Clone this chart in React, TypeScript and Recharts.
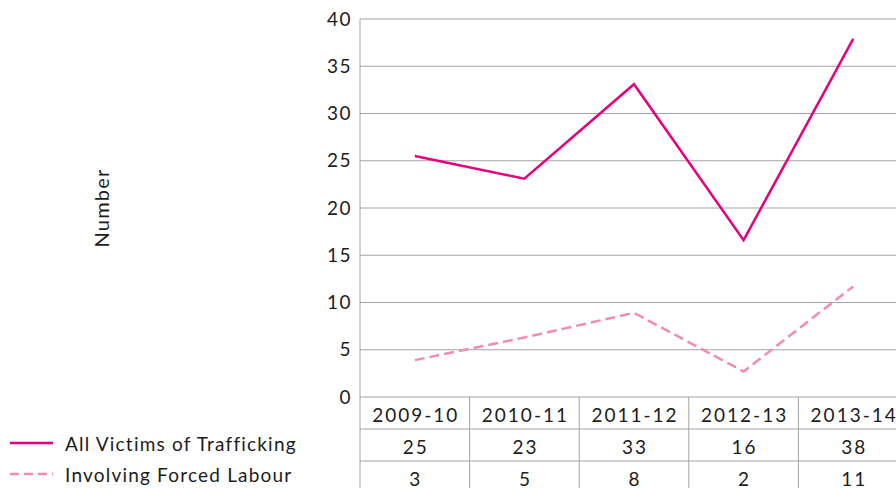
import React from "react";
import { LineChart, Line, XAxis, YAxis, CartesianGrid, Legend } from "recharts";

const years = ["2009-10", "2010-11", "2011-12", "2012-13", "2013-14"];
// values as drawn in the plot
const allVictims = [25.5, 23.1, 33.1, 16.6, 37.9];
const forcedLabour = [3.9, 6.3, 8.9, 2.7, 11.7];
// values as printed in the table
const allVictimsTable = [25, 23, 33, 16, 38];
const forcedLabourTable = [3, 5, 8, 2, 11];
const yTicks = [0, 5, 10, 15, 20, 25, 30, 35, 40];

const data = years.map((year, i) => ({
    year,
    all: allVictims[i],
    forced: forcedLabour[i],
}));

const W = 920;
const H = 488;
const M = { top: 19, right: 12, bottom: 0, left: 0 };
const YW = 360;
const COL_W = (W - M.left - M.right - YW) / years.length;
const ROW_H = 32;
const GRID = "#a3a3a3";
const INK = "#1c1c1c";
const FONT = "Lato, 'Open Sans', sans-serif";
const MAGENTA = "#e6007e";
const PINK = "#f08cb4";

function TableTick(props: any) {
    const { x, y, payload, index } = props;
    const i = index ?? payload.index;
    const left = x - COL_W / 2;
    const right = x + COL_W / 2;
    const rows = [years[i], String(allVictimsTable[i]), String(forcedLabourTable[i])];
    return (
        <g>
            {i === 0 && <line x1={left} x2={left} y1={y} y2={y + ROW_H * 3} stroke={GRID} />}
            <line x1={right} x2={right} y1={y} y2={y + ROW_H * 3} stroke={GRID} />
            <line x1={left} x2={right} y1={y + ROW_H} y2={y + ROW_H} stroke={GRID} />
            <line x1={left} x2={right} y1={y + ROW_H * 2} y2={y + ROW_H * 2} stroke={GRID} />
            {rows.map((t, r) => (
                <text
                    key={r}
                    x={x + 1}
                    y={y + ROW_H * r + ROW_H / 2 + 1}
                    textAnchor="middle"
                    dominantBaseline="central"
                    fontSize={19}
                    letterSpacing={2}
                    fontFamily={FONT}
                    fill={INK}
                >
                    {t}
                </text>
            ))}
        </g>
    );
}

function LegendBox() {
    const items = [
        { label: "All Victims of Trafficking", color: MAGENTA, dash: undefined },
        { label: "Involving Forced Labour", color: PINK, dash: "9 5" },
    ];
    return (
        <svg width={310} height={70}>
            {items.map((it, i) => (
                <g key={it.label}>
                    <line x1={0} x2={43} y1={14 + i * 31} y2={14 + i * 31} stroke={it.color} strokeWidth={2.5} strokeDasharray={it.dash} />
                    <text x={55} y={14 + i * 31} dominantBaseline="central" fontSize={19} letterSpacing={1.2} fontFamily={FONT} fill={INK}>
                        {it.label}
                    </text>
                </g>
            ))}
        </svg>
    );
}

function NumberLabel(props: any) {
    const vb = props.viewBox || {};
    const cx = 101;
    const cy = (vb.y ?? 19) + (vb.height ?? 378) / 2;
    return (
        <text
            x={cx}
            y={cy}
            transform={`rotate(-90 ${cx} ${cy})`}
            textAnchor="middle"
            dominantBaseline="central"
            fontSize={20}
            letterSpacing={1.2}
            fontFamily={FONT}
            fill={INK}
        >
            Number
        </text>
    );
}

export default function App() {
    return (
        <div style={{ position: "fixed", left: 0, top: 0, width: 896, height: 488, overflow: "hidden", background: "#fff" }}>
            <LineChart width={W} height={H} data={data} margin={M}>
                <CartesianGrid vertical={false} stroke={GRID} />
                <XAxis
                    dataKey="year"
                    scale="band"
                    height={H - M.top - 378}
                    axisLine={false}
                    tickLine={false}
                    tickSize={0}
                    tickMargin={0}
                    interval={0}
                    tick={<TableTick />}
                />
                <YAxis
                    width={YW}
                    domain={[0, 40]}
                    ticks={yTicks}
                    interval={0}
                    axisLine={{ stroke: GRID }}
                    tickLine={false}
                    tickSize={0}
                    tickMargin={8}
                    tick={{ fontSize: 19, fontFamily: FONT, fill: INK, letterSpacing: 1.5 }}
                    label={<NumberLabel />}
                />
                <Legend
                    layout="vertical"
                    align="center"
                    verticalAlign="middle"
                    wrapperStyle={{ left: 10, top: 429, width: 310 }}
                    content={<LegendBox />}
                />
                <Line dataKey="all" stroke={MAGENTA} strokeWidth={2.5} dot={false} isAnimationActive={false} />
                <Line dataKey="forced" stroke={PINK} strokeWidth={2.5} strokeDasharray="10 5" dot={false} isAnimationActive={false} />
            </LineChart>
        </div>
    );
}
